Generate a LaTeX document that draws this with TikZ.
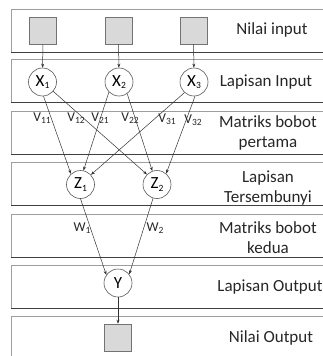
\documentclass[tikz,border=0pt]{standalone}
\usepackage{fontspec}
\setmainfont{Carlito}
\usetikzlibrary{arrows.meta}
\tikzset{
  band/.style={draw=black!38, line width=1pt},
  bandedge/.style={draw=black!75, line width=0.9pt},
  unit/.style={circle, draw=black!65, fill=white, line width=0.6pt, minimum size=28pt, inner sep=0pt, font=\fontsize{17}{17}\selectfont},
  valbox/.style={rectangle, draw=black!55, fill=black!15, line width=0.6pt, minimum size=27pt, inner sep=0pt},
  conn/.style={draw=black!80, line width=0.5pt, -{Stealth[length=4pt,width=3pt]}},
  caption/.style={align=center, font=\fontsize{17}{20}\selectfont, text=black!85},
  weight/.style={inner sep=0pt, font=\fontsize{13.5}{13.5}\selectfont, text=black!85},
}
\newcommand\subtxt[1]{\raisebox{-2.5pt}{\fontsize{9.5}{9.5}\selectfont #1}}
\begin{document}
\begin{tikzpicture}[x=1pt,y=-1pt]
\useasboundingbox (0,0) rectangle (323,356);
% horizontal bands, running off the right and bottom edges
\begin{scope}
\clip (0,0) rectangle (323,356);
\foreach \t in {9,59,111,162,214,265,316} {
  \draw[band] (11,\t+43) -- (11,\t) -- (340,\t);
  \draw[bandedge] (11,\t+43) -- (340,\t+43);
}
\end{scope}
% input and output values
\node[valbox] (i1) at (43,30.5) {};
\node[valbox] (i2) at (118.5,30.5) {};
\node[valbox] (i3) at (193.5,30.5) {};
\node[valbox] (o) at (118,337.5) {};
% neurons
\node[unit] (X1) at (42.5,82) {X\subtxt{1}};
\node[unit] (X2) at (119,82) {X\subtxt{2}};
\node[unit] (X3) at (194,82) {X\subtxt{3}};
\node[unit] (Z1) at (80.5,184.5) {Z\subtxt{1}};
\node[unit] (Z2) at (157,184.5) {Z\subtxt{2}};
\node[unit] (Y) at (118,283) {Y};
% connections
\draw[conn] (i1) -- (X1);
\draw[conn] (i2) -- (X2);
\draw[conn] (i3) -- (X3);
\draw[conn] (X1.-86) -- (Z1.132);
\draw[conn] (X1.-41) -- (Z2.135);
\draw[conn] (X2.-135) -- (Z1.78);
\draw[conn] (X2.-55) -- (Z2.109);
\draw[conn] (X3.-132) -- (Z1.43);
\draw[conn] (X3.-86) -- (Z2.50);
\draw[conn] (Z1.-90) -- (Y.145);
\draw[conn] (Z2.-106) -- (Y.38);
\draw[conn] (Y) -- (o);
% weights
\node[weight] (v11) at (42,118) {V\subtxt{11}};
\node[weight] (v12) at (76,118) {V\subtxt{12}};
\node[weight] (v21) at (100,118) {V\subtxt{21}};
\node[weight] (v22) at (130,118) {V\subtxt{22}};
\node[weight] (v31) at (167,119) {V\subtxt{31}};
\node[weight] (v32) at (193,120) {V\subtxt{32}};
\node[weight] (w1) at (82,228) {W\subtxt{1}};
\node[weight] (w2) at (155,228) {W\subtxt{2}};
% layer captions
\node[caption] (c1) at (272,30) {Nilai input};
\node[caption] (c2) at (266,82) {Lapisan Input};
\node[caption] (c3) at (268,133) {Matriks bobot\\pertama};
\node[caption] (c4) at (268,188.5) {Lapisan\\Tersembunyi};
\node[caption] (c5) at (268,238) {Matriks bobot\\kedua};
\node[caption] (c6) at (270,287) {Lapisan Output};
\node[caption] (c7) at (271,338) {Nilai Output};
\end{tikzpicture}
\end{document}
